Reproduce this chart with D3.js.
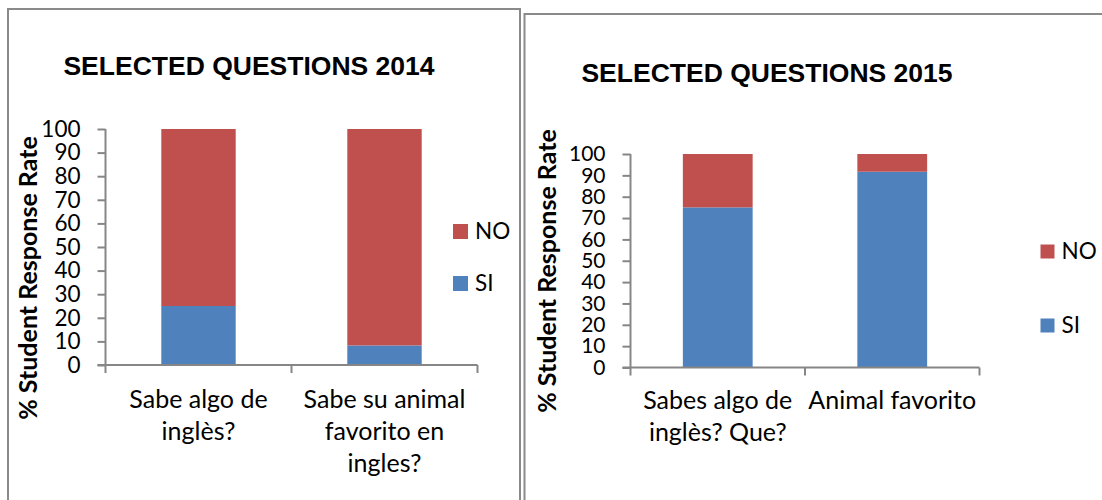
<!DOCTYPE html>
<html>
<head>
<meta charset="utf-8">
<script src="https://cdn.jsdelivr.net/npm/d3@7/dist/d3.min.js"></script>
<style>
  html, body { margin: 0; padding: 0; background: #fff; }
  svg { display: block; }
</style>
</head>
<body>
<svg id="chart" width="1102" height="500"></svg>
<script>
// ---- data ----
const seriesNames = ["SI", "NO"];
const seriesColors = ["#4F81BD", "#C0504D"];
const yTickValues = [0, 10, 20, 30, 40, 50, 60, 70, 80, 90, 100];

const title2014 = "SELECTED QUESTIONS 2014";
const categories2014 = ["Sabe algo de\ninglès?", "Sabe su animal\nfavorito en\ningles?"];
const si2014 = [25, 8.3];
const no2014 = [75, 91.7];

const title2015 = "SELECTED QUESTIONS 2015";
const categories2015 = ["Sabes algo de\ninglès? Que?", "Animal favorito"];
const si2015 = [75, 91.7];
const no2015 = [25, 8.3];

const yTitle = "% Student Response Rate";

// ---- drawing ----
const svg = d3.select("#chart");
const axisColor = "#868686";
const bodyFont = "Lato, 'Open Sans', sans-serif";

function drawPanel(cfg) {
  const g = svg.append("g");
  // panel border
  g.append("rect")
    .attr("x", cfg.box[0]).attr("y", cfg.box[1])
    .attr("width", cfg.box[2]).attr("height", cfg.box[3])
    .attr("fill", "none").attr("stroke", "#8a8a8a").attr("stroke-width", 2);

  const x = d3.scaleBand()
    .domain(cfg.categories)
    .range([cfg.x0, cfg.x1])
    .paddingInner(0.6).paddingOuter(0.3);
  const y = d3.scaleLinear().domain([0, 100]).range([cfg.y0, cfg.y1]);

  const stackData = cfg.categories.map((c, i) => ({ cat: c, SI: cfg.si[i], NO: cfg.no[i] }));
  const stacked = d3.stack().keys(seriesNames)(stackData);

  g.selectAll("g.series").data(stacked).join("g")
    .attr("fill", (d, i) => seriesColors[i])
    .selectAll("rect").data(d => d).join("rect")
      .attr("x", d => x(d.data.cat))
      .attr("width", x.bandwidth())
      .attr("y", d => y(d[1]))
      .attr("height", d => y(d[0]) - y(d[1]));

  // y axis
  const yAxis = d3.axisLeft(y).tickValues(yTickValues).tickSize(8).tickPadding(17);
  const ya = g.append("g").attr("transform", `translate(${cfg.x0},0)`).call(yAxis);
  ya.select(".domain").attr("stroke", axisColor).attr("stroke-width", 2).attr("d", `M0,${cfg.y1}V${cfg.y0}`);
  ya.selectAll(".tick line").attr("stroke", axisColor).attr("stroke-width", 2);
  ya.selectAll(".tick text").attr("fill", "#000").style("font-family", bodyFont).style("font-size", cfg.tickFont + "px");

  // x axis line with category boundary ticks
  g.append("line").attr("x1", cfg.x0 - 8).attr("x2", cfg.x1)
    .attr("y1", cfg.y0).attr("y2", cfg.y0)
    .attr("stroke", axisColor).attr("stroke-width", 2);
  const step = x.step();
  const bounds = d3.range(cfg.categories.length + 1).map(i => cfg.x0 + i * step);
  g.selectAll("line.xt").data(bounds).join("line")
    .attr("x1", d => d).attr("x2", d => d)
    .attr("y1", cfg.y0).attr("y2", cfg.y0 + 8)
    .attr("stroke", axisColor).attr("stroke-width", 2);

  // category labels
  cfg.categories.forEach(c => {
    const lines = c.split("\n");
    const t = g.append("text")
      .attr("x", x(c) + x.bandwidth() / 2)
      .attr("y", cfg.labelY)
      .attr("text-anchor", "middle")
      .style("font-family", bodyFont).style("font-size", cfg.labelFont + "px");
    lines.forEach((ln, i) => {
      t.append("tspan").attr("x", x(c) + x.bandwidth() / 2)
        .attr("dy", i === 0 ? 0 : cfg.lineGap).text(ln);
    });
  });

  // title
  g.append("text").attr("x", cfg.titleX).attr("y", cfg.titleY)
    .attr("text-anchor", "middle")
    .style("font-family", "'Liberation Sans', Arial, sans-serif")
    .style("font-weight", "bold").style("font-size", cfg.titleFont + "px")
    .text(cfg.title);

  // y title
  g.append("text")
    .attr("transform", `translate(${cfg.yTitleX},${cfg.yTitleY}) rotate(-90)`)
    .attr("text-anchor", "middle")
    .style("font-family", bodyFont).style("font-weight", "bold")
    .style("font-size", cfg.yTitleFont + "px")
    .text(yTitle);

  // legend (NO on top, SI below)
  const legendOrder = [1, 0];
  legendOrder.forEach((si, k) => {
    const ly = cfg.legendY[k];
    g.append("rect").attr("x", cfg.legendX).attr("y", ly)
      .attr("width", cfg.swatch).attr("height", cfg.swatch)
      .attr("fill", seriesColors[si]);
    g.append("text").attr("x", cfg.legendX + cfg.swatch + 7).attr("y", ly + cfg.swatch)
      .style("font-family", bodyFont).style("font-size", cfg.legendFont + "px")
      .text(seriesNames[si]);
  });
}

drawPanel({
  box: [8, 9, 512, 520],
  categories: categories2014, si: si2014, no: no2014, title: title2014,
  x0: 105.5, x1: 477.5, y0: 365, y1: 129,
  tickFont: 22.5, labelFont: 25, labelY: 408, lineGap: 32,
  titleX: 249, titleY: 75, titleFont: 26.5,
  yTitleX: 37, yTitleY: 278, yTitleFont: 25,
  legendX: 453, legendY: [224, 276], swatch: 15, legendFont: 22.5
});

drawPanel({
  box: [524.5, 14, 600, 520],
  categories: categories2015, si: si2015, no: no2015, title: title2015,
  x0: 630.5, x1: 979.5, y0: 367.5, y1: 154,
  tickFont: 21, labelFont: 25, labelY: 409, lineGap: 32,
  titleX: 767, titleY: 82, titleFont: 26.5,
  yTitleX: 556, yTitleY: 271, yTitleFont: 25,
  legendX: 1040.5, legendY: [244.5, 318.5], swatch: 14, legendFont: 22.5
});
</script>
</body>
</html>
